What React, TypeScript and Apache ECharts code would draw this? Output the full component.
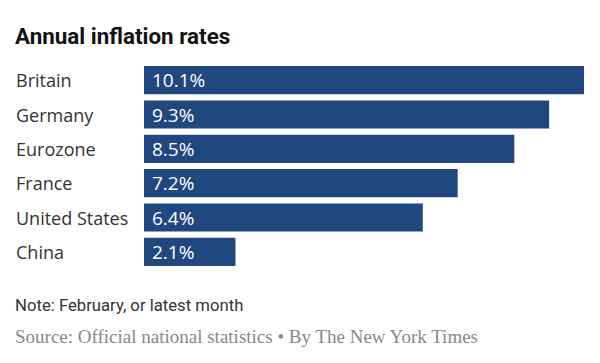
import React, { useEffect, useRef } from "react";
import * as echarts from "echarts";

const categories = ["Britain", "Germany", "Eurozone", "France", "United States", "China"];
const values = [10.1, 9.3, 8.5, 7.2, 6.4, 2.1];
const titleText = "Annual inflation rates";
const noteText = "Note: February, or latest month";
const sourceText = "Source: Official national statistics \u2022 By The New York Times";

export default function App() {
  const ref = useRef<HTMLDivElement>(null);
  useEffect(() => {
    if (!ref.current) return;
    const chart = echarts.init(ref.current, undefined, { renderer: "svg" });
    chart.setOption({
      animation: false,
      backgroundColor: "#ffffff",
      title: {
        text: titleText,
        left: 15,
        top: 25,
        padding: 0,
        textStyle: {
          fontFamily: "Roboto",
          fontWeight: "bold",
          fontSize: 22.4,
          color: "#121212",
        },
      },
      grid: { left: 144, right: 16, top: 63, height: 206, containLabel: false },
      xAxis: {
        type: "value",
        min: 0,
        max: 10.1,
        show: false,
      },
      yAxis: {
        type: "category",
        data: categories,
        inverse: true,
        axisLine: { show: false },
        axisTick: { show: false },
        splitLine: { show: false },
        axisLabel: {
          align: "left",
          margin: 128,
          fontFamily: "Open Sans",
          fontSize: 18,
          color: "#333333",
        },
      },
      series: [
        {
          type: "bar",
          data: values,
          barCategoryGap: "18%",
          itemStyle: { color: "#21477f" },
          label: {
            show: true,
            position: "insideLeft",
            distance: 8,
            formatter: (p: any) => `${p.value}%`,
            fontFamily: "Open Sans",
            fontSize: 19,
            color: "#ffffff",
          },
        },
      ],
      graphic: [
        {
          type: "text",
          left: 15,
          top: 297,
          style: {
            text: noteText,
            fontFamily: "Roboto",
            fontSize: 16.7,
            fill: "#333333",
          },
        },
        {
          type: "text",
          left: 15,
          top: 327,
          style: {
            text: sourceText,
            fontFamily: "Liberation Serif",
            fontSize: 19,
            fill: "#888888",
          },
        },
      ],
    });
    return () => chart.dispose();
  }, []);
  return (
    <div
      ref={ref}
      style={{ position: "fixed", left: 0, top: 0, width: 600, height: 363 }}
    />
  );
}
